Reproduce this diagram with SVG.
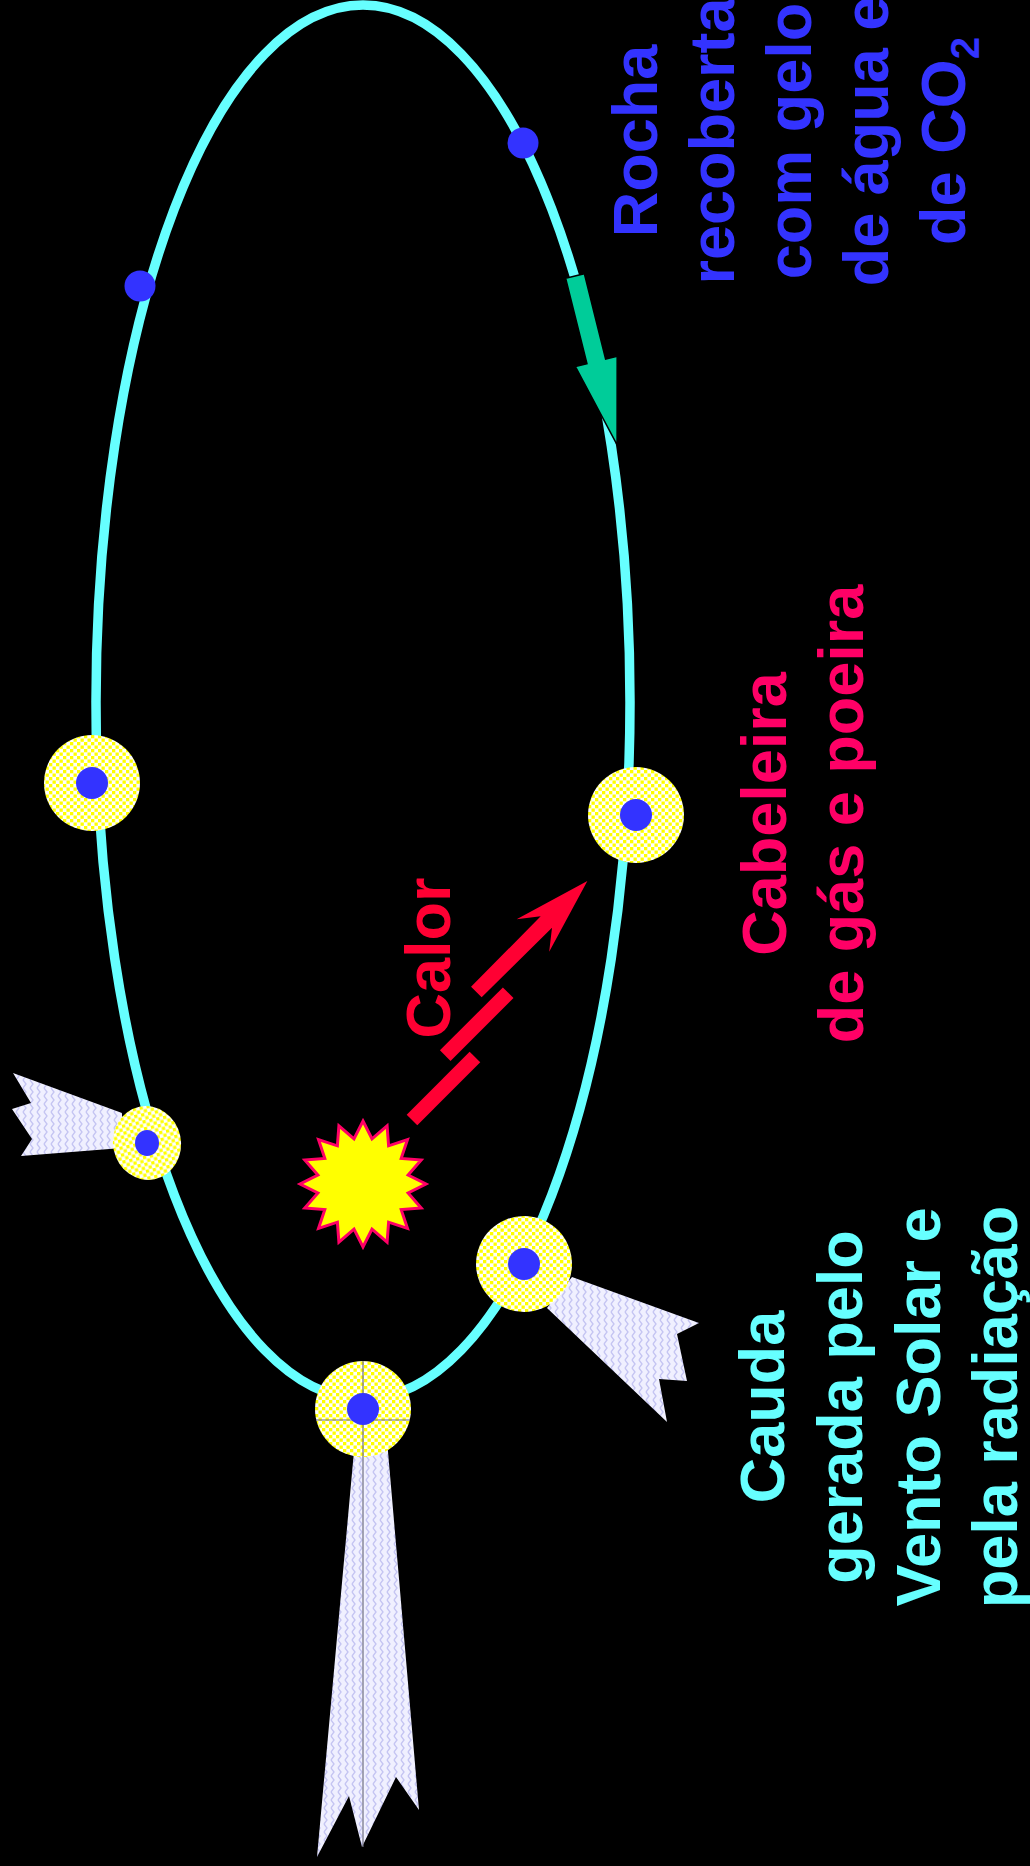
<svg xmlns="http://www.w3.org/2000/svg" width="1030" height="1866" viewBox="0 0 1030 1866">
  <defs>
    <style>
      .orbit { fill: none; stroke: #66ffff; stroke-width: 9.5; }
      .coma { fill: url(#dust); }
      .nucleus { fill: #3333ff; }
      .tail { fill: url(#wind); }
      .guide { stroke: #6e6e80; stroke-width: 1.2; fill: none; }
      .lbl { font-family: "Liberation Sans", Arial, sans-serif; font-weight: bold; font-size: 63px; text-anchor: middle; }
      .blue { fill: #3333ff; }
      .pink { fill: #ff0066; }
      .cyan { fill: #66ffff; }
      .red { fill: #ff0033; }
    </style>
    <!-- yellow dotted coma texture -->
    <pattern id="dust" width="7" height="7" patternUnits="userSpaceOnUse">
      <rect width="7" height="7" fill="#ffffff"/>
      <rect x="0" y="0" width="3.3" height="3.3" fill="#ffff00"/>
      <rect x="3.5" y="3.5" width="3.3" height="3.3" fill="#ffff00"/>
    </pattern>
    <!-- zigzag texture of the tails -->
    <pattern id="wind" width="7" height="8" patternUnits="userSpaceOnUse">
      <rect width="7" height="8" fill="#f0f0ff"/>
      <path d="M2,0 L5,4 L2,8" fill="none" stroke="#c4c4f2" stroke-width="1.3"/>
    </pattern>
  </defs>

  <rect width="1030" height="1866" fill="#000000"/>

  <!-- orbit -->
  <g id="orbit">
    <ellipse class="orbit" cx="363" cy="702" rx="267" ry="697"/>
  </g>

  <!-- bare rocks far from the sun -->
  <g id="rock-right">
    <ellipse class="nucleus" cx="523" cy="143" rx="15.5" ry="15.5"/>
  </g>
  <g id="rock-left">
    <ellipse class="nucleus" cx="140" cy="286" rx="15.5" ry="15.5"/>
  </g>

  <!-- comets with coma -->
  <g id="comet-left">
    <circle class="coma" cx="92" cy="783" r="48"/>
    <circle class="nucleus" cx="92" cy="783" r="16"/>
  </g>
  <g id="comet-right">
    <circle class="coma" cx="636" cy="815" r="48"/>
    <circle class="nucleus" cx="636" cy="815" r="16"/>
  </g>

  <!-- comets with coma and tail -->
  <g id="comet-small">
    <polygon class="tail" points="13,1073 31,1103 12,1109 32,1139 21,1156 122,1148 122,1113"/>
    <ellipse class="coma" cx="147" cy="1143" rx="34" ry="37" transform="rotate(-12 147 1143)"/>
    <ellipse class="nucleus" cx="147" cy="1143" rx="12" ry="13"/>
  </g>
  <g id="comet-lower-right">
    <polygon class="tail" points="572,1277 699,1323 677,1334 687,1381 659,1379 667,1422 547,1308"/>
    <circle class="coma" cx="524" cy="1264" r="48"/>
    <circle class="nucleus" cx="524" cy="1264" r="16"/>
  </g>
  <g id="comet-bottom">
    <polygon class="tail" points="355,1440 387,1440 419,1810 396,1777 362,1847 349,1796 317,1857"/>
    <circle class="coma" cx="363" cy="1409" r="48"/>
    <line class="guide" x1="363" y1="1361" x2="363" y2="1847"/>
    <line class="guide" x1="316" y1="1420" x2="410" y2="1420"/>
    <circle class="nucleus" cx="363" cy="1409" r="16"/>
  </g>

  <!-- sun -->
  <g id="sun" transform="translate(363 1184)">
    <polygon fill="#ffff00" stroke="#ff0066" stroke-width="3" stroke-linejoin="miter"
      points="0,-63 9,-45.1 24.1,-58.2 25.6,-38.2 44.5,-44.5 38.2,-25.6 58.2,-24.1 45.1,-9 63,0 45.1,9 58.2,24.1 38.2,25.6 44.5,44.5 25.6,38.2 24.1,58.2 9,45.1 0,63 -9,45.1 -24.1,58.2 -25.6,38.2 -44.5,44.5 -38.2,25.6 -58.2,24.1 -45.1,9 -63,0 -45.1,-9 -58.2,-24.1 -38.2,-25.6 -44.5,-44.5 -25.6,-38.2 -24.1,-58.2 -9,-45.1"/>
  </g>

  <g id="connectors">
    <!-- direction of motion along the orbit -->
    <polygon fill="#00cc99" stroke="#000000" stroke-width="1.5" transform="translate(575 276) rotate(76)"
      points="0,-9.6 88,-9.6 88,-21.5 174,0 88,21.5 88,9.6 0,9.6"/>
    <!-- heat from the sun, stepped bolt -->
    <g class="red" transform="translate(412 1120) rotate(-45)">
      <rect x="0" y="-7.5" width="89" height="15"/>
      <rect x="69" y="-29.5" width="89" height="15"/>
      <polygon points="136,-52.5 235,-53 216,-68 293,-45 216,-22 235,-37 136,-37.5"/>
    </g>
  </g>

  <!-- labels, read bottom-to-top -->
  <g id="label-calor" transform="rotate(-90)">
    <text class="lbl red" x="-958" y="450">Calor</text>
  </g>
  <g id="label-rocha" transform="rotate(-90)">
    <text class="lbl blue" x="-141" y="657">Rocha</text>
    <text class="lbl blue" x="-141" y="734">recoberta</text>
    <text class="lbl blue" x="-141" y="811">com gelo</text>
    <text class="lbl blue" x="-141" y="888">de água e</text>
    <text class="lbl blue" x="-141" y="965">de CO<tspan font-size="40" dy="14">2</tspan></text>
  </g>
  <g id="label-cabeleira" transform="rotate(-90)">
    <text class="lbl pink" x="-814" y="786">Cabeleira</text>
    <text class="lbl pink" x="-814" y="863">de gás e poeira</text>
  </g>
  <g id="label-cauda" transform="rotate(-90)">
    <text class="lbl cyan" x="-1407" y="784">Cauda</text>
    <text class="lbl cyan" x="-1407" y="862">gerada pelo</text>
    <text class="lbl cyan" x="-1407" y="940">Vento Solar e</text>
    <text class="lbl cyan" x="-1407" y="1017">pela radiação</text>
  </g>
</svg>
